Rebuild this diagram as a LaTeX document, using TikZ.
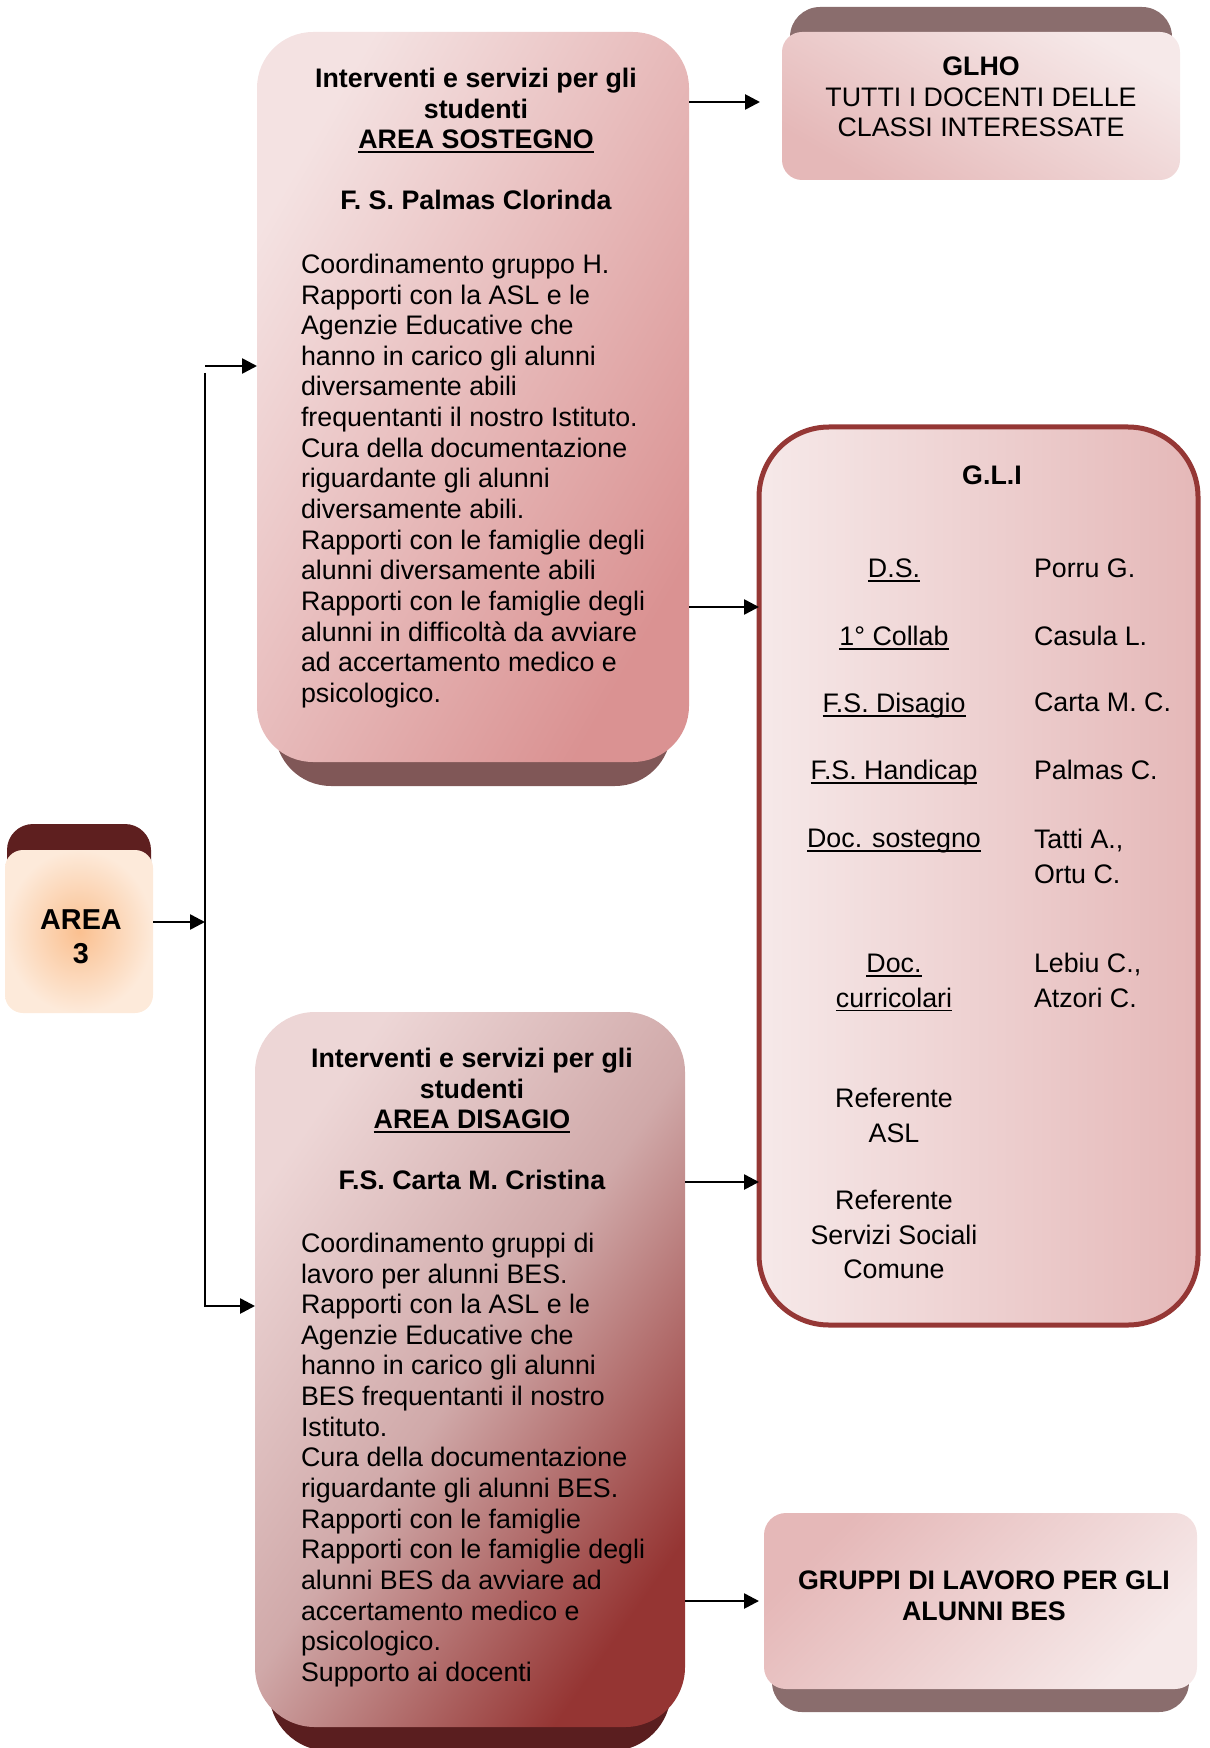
\documentclass[tikz,border=0pt]{standalone}
\usepackage{fontspec}
\setmainfont{Liberation Sans}
\newcommand*{\boxfont}{\fontsize{13.4}{15.32}\selectfont}
\newcommand*{\glifont}{\fontsize{13.4}{17.3}\selectfont}
\newcommand*{\areafont}{\fontsize{14.4}{17}\selectfont}
\newcommand*{\udl}[1]{\setbox0\hbox{#1}\rlap{\rule[-2.2pt]{\wd0}{0.9pt}}\box0}
\definecolor{sostL}{HTML}{F4E2E2}
\definecolor{sostR}{HTML}{DA9292}
\definecolor{sostS}{HTML}{805757}
\definecolor{disL}{HTML}{EDD6D6}
\definecolor{disM}{HTML}{D0A9A9}
\definecolor{disR}{HTML}{953533}
\definecolor{disS}{HTML}{5A1E1F}
\definecolor{paleL}{HTML}{F6E9E9}
\definecolor{paleD}{HTML}{E5B8B8}
\definecolor{paleS}{HTML}{8A6D6D}
\definecolor{gliB}{HTML}{953735}
\definecolor{peachC}{HTML}{FAC090}
\definecolor{peachE}{HTML}{FDEADA}
\definecolor{areaS}{HTML}{5E1F1F}
\usepackage{tikz}
\usetikzlibrary{arrows.meta}
\usetikzlibrary{backgrounds}
\tikzstyle{base}=[inner sep=0pt, outer sep=0pt]
\tikzstyle{conn}=[line width=1.3pt, -{Triangle[length=7.5pt,width=7.5pt]}]
\tikzstyle{glicol}=[font=\glifont, align=center, anchor=north]
\tikzstyle{glinam}=[font=\glifont, align=left, anchor=north west]

\begin{document}
\begin{tikzpicture}[base, x=0.5pt, y=-0.5pt]
    \useasboundingbox (0,0) rectangle (1209,1748);
    % box faces
    \node [rounded corners=9pt, inner color=peachC, outer color=peachE, minimum width=74pt, minimum height=81.5pt] (area3) at (79,931.5) {};
    \node [rounded corners=28pt, top color=sostL, bottom color=sostR, shading angle=60, minimum width=216pt, minimum height=365pt] (sost) at (473,397) {};
    \node [rounded corners=10pt, top color=paleL, bottom color=paleD, shading angle=-30, minimum width=199pt, minimum height=74pt] (glho) at (981,106) {};
    \node [rounded corners=35pt, draw=gliB, line width=2.5pt, left color=paleL, right color=paleD, minimum width=219.5pt, minimum height=449pt] (gli) at (978.5,876) {};
    \node [rounded corners=30pt, top color=disL, bottom color=disR, middle color=disM, shading angle=55, minimum width=215pt, minimum height=357.5pt] (disagio) at (470,1369.5) {};
    \node [rounded corners=11pt, top color=paleD, bottom color=paleL, shading angle=45, minimum width=216.5pt, minimum height=88pt] (gruppi) at (980.5,1601) {};
    % ledges
    \begin{scope}[on background layer]
        \fill [areaS, rounded corners=13pt] ([xshift=1pt,yshift=13pt]area3.north west) rectangle ([xshift=-1pt,yshift=13pt]area3.south east);
        \fill [paleS, rounded corners=15pt] ([xshift=4pt,yshift=12.5pt]glho.north west) rectangle ([xshift=-4pt,yshift=12.5pt]glho.south east);
        \fill [sostS, rounded corners=28pt] ([xshift=9pt,yshift=-12pt]sost.north west) rectangle ([xshift=-9pt,yshift=-12pt]sost.south east);
        \fill [disS, rounded corners=30pt] ([xshift=7pt,yshift=-12pt]disagio.north west) rectangle ([xshift=-7pt,yshift=-12pt]disagio.south east);
        \fill [paleS, rounded corners=15pt] ([xshift=4pt,yshift=-11.5pt]gruppi.north west) rectangle ([xshift=-4pt,yshift=-11.5pt]gruppi.south east);
    \end{scope}
    % texts
    \node [font=\areafont\bfseries, align=center] (areaText) at (81,937) {AREA\\3};
    \node [anchor=north, align=center, font=\boxfont\bfseries] (sostHead) at (476,68) {Interventi e servizi per gli\\studenti\\\udl{AREA SOSTEGNO}\\[15.32pt]F. S. Palmas Clorinda};
    \node [anchor=north west, align=left, font=\boxfont] (sostBody) at (301,254) {Coordinamento gruppo H.\\Rapporti con la ASL e le\\Agenzie Educative che\\hanno in carico gli alunni\\diversamente abili\\frequentanti il nostro Istituto.\\Cura della documentazione\\riguardante gli alunni\\diversamente abili.\\Rapporti con le famiglie degli\\alunni diversamente abili\\Rapporti con le famiglie degli\\alunni in difficoltà da avviare\\ad accertamento medico e\\psicologico.};
    \node [anchor=north, align=center, font=\boxfont\bfseries] (disHead) at (472,1048) {Interventi e servizi per gli\\studenti\\\udl{AREA DISAGIO}\\[15.32pt]F.S. Carta M. Cristina};
    \node [anchor=north west, align=left, font=\boxfont] (disBody) at (301,1233) {Coordinamento gruppi di\\lavoro per alunni BES.\\Rapporti con la ASL e le\\Agenzie Educative che\\hanno in carico gli alunni\\BES frequentanti il nostro\\Istituto.\\Cura della documentazione\\riguardante gli alunni BES.\\Rapporti con le famiglie\\Rapporti con le famiglie degli\\alunni BES da avviare ad\\accertamento medico e\\psicologico.\\Supporto ai docenti};
    \node [anchor=north, align=center, font=\boxfont] (glhoText) at (981,57) {\textbf{GLHO}\\TUTTI I DOCENTI DELLE\\CLASSI INTERESSATE};
    \node [font=\boxfont\bfseries, align=center] (gruppiText) at (984,1595.5) {GRUPPI DI LAVORO PER GLI\\ALUNNI BES};
    % G.L.I members
    \node [font=\glifont\bfseries] (gliHead) at (992,475) {G.L.I};
    \node [glicol] (rDs) at (894,559) {\udl{D.S.}};
    \node [glicol] (rColl) at (894,626) {\udl{1° Collab}};
    \node [glicol] (rDis) at (894,693) {\udl{F.S. Disagio}};
    \node [glicol] (rHand) at (894,760) {\udl{F.S. Handicap}};
    \node [glicol] (rSost) at (894,829) {\udl{Doc. sostegno}};
    \node [glicol] (rCurr) at (894,954) {\udl{Doc.}\\\udl{curricolari}};
    \node [glicol] (rAsl) at (894,1088) {Referente\\ASL};
    \node [glicol] (rComune) at (894,1190) {Referente\\Servizi Sociali\\Comune};
    \node [glinam] (nDs) at (1034,559) {Porru G.};
    \node [glinam] (nColl) at (1034,626) {Casula L.};
    \node [glinam] (nDis) at (1034,693) {Carta M. C.};
    \node [glinam] (nHand) at (1034,760) {Palmas C.};
    \node [glinam] (nSost) at (1034,829) {Tatti A.,\\Ortu C.};
    \node [glinam] (nCurr) at (1034,953) {Lebiu C.,\\Atzori C.};
    % connectors
    \coordinate (hub) at (205,922);
    \coordinate (jtop) at (205,366);
    \coordinate (vtop) at (205,373);
    \coordinate (jbot) at (205,1306);
    \draw [conn] (area3.east |- hub) -- (hub);
    \draw [conn] (jtop) -- (jtop -| sost.west);
    \draw [conn] (vtop) -- (jbot) -- (jbot -| disagio.west);
    \draw [conn, shorten >=11pt] (sost.east |- 0,102) -- (glho.west |- 0,102);
    \draw [conn] (sost.east |- 0,607) -- (gli.west |- 0,607);
    \draw [conn] (disagio.east |- 0,1182) -- (gli.west |- 0,1182);
    \draw [conn, shorten >=2.5pt] (gruppi.west -| disagio.east) -- (gruppi.west);
\end{tikzpicture}
\end{document}
